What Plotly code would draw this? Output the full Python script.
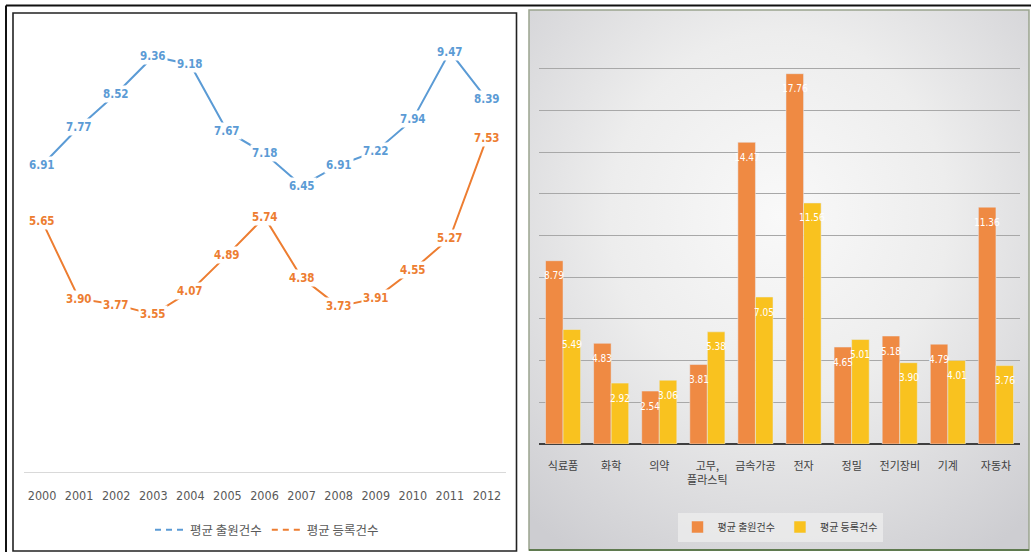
import base64
import plotly.graph_objects as go

# ---- data -------------------------------------------------------------
years = [str(y) for y in range(2000, 2013)]
apply_avg = [6.91, 7.77, 8.52, 9.36, 9.18, 7.67, 7.18, 6.45, 6.91, 7.22, 7.94, 9.47, 8.39]
register_avg = [5.65, 3.90, 3.77, 3.55, 4.07, 4.89, 5.74, 4.38, 3.73, 3.91, 4.55, 5.27, 7.53]

industries = ["식료품", "화학", "의약", "고무,<br>플라스틱", "금속가공",
              "전자", "정밀", "전기장비", "기계", "자동차"]
ind_apply = [8.79, 4.83, 2.54, 3.81, 14.47, 17.76, 4.65, 5.18, 4.79, 11.36]
ind_register = [5.49, 2.92, 3.06, 5.38, 7.05, 11.56, 5.01, 3.90, 4.01, 3.76]

series_names = ["평균 출원건수", "평균 등록건수"]

# ---- styling ----------------------------------------------------------
W, H = 1031, 552
BLUE, ORANGE = "#5B9BD5", "#ED7D31"
BAR_ORANGE, BAR_YELLOW = "#EF8A43", "#F9C21F"
NARROW = "Liberation Sans Narrow, DejaVu Sans Condensed, Noto Sans, sans-serif"
KR = "Noto Sans CJK KR, sans-serif"


def px(x):
    return x / W


def py(y):
    return 1 - y / H


fig = go.Figure()

# ---- left: yearly line chart ----------------------------------------
for name, vals, color in [(series_names[0], apply_avg, BLUE),
                          (series_names[1], register_avg, ORANGE)]:
    fig.add_trace(go.Scatter(
        x=years, y=vals, mode="lines", line=dict(color=color, width=2),
        showlegend=False, xaxis="x", yaxis="y", hoverinfo="skip"))
    # dashed key shown in the legend only
    fig.add_trace(go.Scatter(
        x=[years[0]], y=[None], mode="lines", name=name,
        line=dict(color=color, width=2, dash="6px,5px"),
        legend="legend", xaxis="x", yaxis="y", hoverinfo="skip"))

annotations = []
# value labels sit on each point (category index on the year axis)
for vals, color in [(apply_avg, BLUE), (register_avg, ORANGE)]:
    for i, v in enumerate(vals):
        annotations.append(dict(
            x=i, y=v, xref="x", yref="y", text=f"{v:.2f}", showarrow=False,
            bgcolor="white", borderpad=1,
            font=dict(family=NARROW, size=11.5, color=color, weight="bold")))

# ---- right: industry bar chart ----------------------------------------
for name, vals, color in [(series_names[0], ind_apply, BAR_ORANGE),
                          (series_names[1], ind_register, BAR_YELLOW)]:
    fig.add_trace(go.Bar(
        x=industries, y=vals, name=name, marker=dict(color=color),
        xaxis="x2", yaxis="y2", legend="legend2", hoverinfo="skip"))

BAR_SHIFT = 8.8
for vals, shift in [(ind_apply, -BAR_SHIFT), (ind_register, BAR_SHIFT)]:
    for i, v in enumerate(vals):
        annotations.append(dict(
            x=i, y=v, xref="x2", yref="y2", text=f"{v:.2f}", showarrow=False,
            xshift=shift, yshift=-15,
            font=dict(family=NARROW, size=10, color="white")))

# gradient backdrop of the bar panel
svg = (
    '<svg xmlns="http://www.w3.org/2000/svg" width="500" height="540" '
    'preserveAspectRatio="none"><defs><radialGradient id="g" cx="50%" cy="38%" r="75%">'
    '<stop offset="0" stop-color="#f9f9f9"/><stop offset="0.45" stop-color="#ededed"/>'
    '<stop offset="1" stop-color="#cdcdd1"/></radialGradient></defs>'
    '<rect width="500" height="540" fill="url(#g)"/></svg>'
)
bg_src = "data:image/svg+xml;base64," + base64.b64encode(svg.encode()).decode()

shapes = [
    # outer frame lines
    dict(type="line", xref="paper", yref="paper", x0=px(6), x1=px(1031), y0=py(5.5), y1=py(5.5),
         line=dict(color="#111111", width=2)),
    dict(type="line", xref="paper", yref="paper", x0=px(6), x1=px(6), y0=py(5.5), y1=py(552),
         line=dict(color="#111111", width=2)),
    # left chart frame
    dict(type="rect", xref="paper", yref="paper", x0=px(13), x1=px(516.5), y0=py(13), y1=py(551),
         line=dict(color="#222222", width=1.6)),
    # right chart frame
    dict(type="rect", xref="paper", yref="paper", x0=px(529), x1=px(1029), y0=py(10), y1=py(550),
         line=dict(color="#9aa48f", width=1.5)),
    dict(type="line", xref="paper", yref="paper", x0=px(529), x1=px(1029), y0=py(550), y1=py(550),
         line=dict(color="#5f7a4f", width=2)),
]

fig.update_layout(
    width=W, height=H,
    margin=dict(l=0, r=0, t=0, b=0),
    paper_bgcolor="white", plot_bgcolor="rgba(0,0,0,0)",
    barmode="group", bargap=0.27, bargroupgap=0,
    font=dict(family=KR, color="#595959"),
    xaxis=dict(domain=[px(23.5), px(505.5)], anchor="y", type="category",
               categoryorder="array", categoryarray=years, range=[-0.5, len(years) - 0.5],
               showline=True, linecolor="#d9d9d9", linewidth=1, showgrid=False,
               ticks="", ticklabelstandoff=12,
               tickfont=dict(family=NARROW, size=12.5, color="#595959")),
    yaxis=dict(domain=[py(472), py(28)], anchor="x", range=[0, 10],
               showgrid=False, zeroline=False, showticklabels=False, ticks=""),
    xaxis2=dict(domain=[px(539), px(1020)], anchor="y2", type="category",
                categoryorder="array", categoryarray=industries,
                range=[-0.5, len(industries) - 0.5],
                showline=False, showgrid=False, ticks="", ticklabelstandoff=14,
                tickfont=dict(family=KR, size=11, color="#404040")),
    yaxis2=dict(domain=[py(444), py(27)], anchor="x2", range=[0, 20], dtick=2,
                showgrid=True, gridcolor="#a8a8a8", gridwidth=1,
                zeroline=True, zerolinecolor="#3f3f3f", zerolinewidth=2,
                showticklabels=False, ticks=""),
    legend=dict(orientation="h", x=px(267), y=py(530), xanchor="center", yanchor="middle",
                itemwidth=30, font=dict(family=KR, size=12.5, color="#595959"),
                bgcolor="rgba(0,0,0,0)"),
    legend2=dict(orientation="h", x=px(780), y=py(527), xanchor="center", yanchor="middle",
                 itemwidth=30, font=dict(family=KR, size=10, color="#404040"),
                 bgcolor="rgba(238,238,238,0.75)"),
    annotations=annotations,
    shapes=shapes,
    images=[dict(source=bg_src, xref="paper", yref="paper", x=px(529), y=py(10),
                 sizex=px(1029) - px(529), sizey=py(10) - py(550),
                 xanchor="left", yanchor="top", sizing="stretch", layer="below")],
)

fig.write_html("out.html")
